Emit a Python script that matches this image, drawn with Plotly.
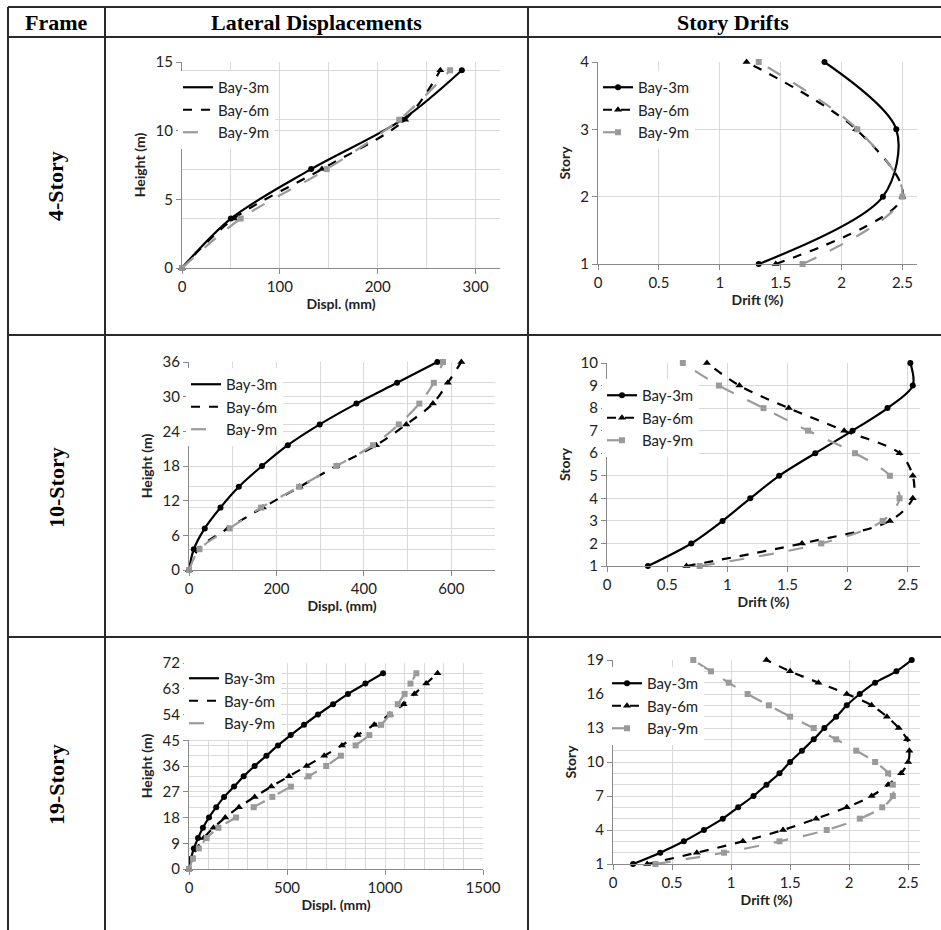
import plotly.graph_objects as go

W, Hh = 941, 930
def fx(px): return px / W
def fy(py): return 1 - py / Hh

# ---------------- data ----------------
H4 = [0, 3.6, 7.2, 10.8, 14.4]
D4_3 = [0, 50, 132, 225, 286]
D4_6 = [0, 53, 143, 228, 264]
D4_9 = [0, 60, 148, 222, 274]

S4 = [1, 2, 3, 4]
R4_3 = [1.32, 2.34, 2.45, 1.86]
R4_6 = [1.46, 2.50, 2.12, 1.22]
R4_9 = [1.68, 2.50, 2.13, 1.32]

H10 = [0, 3.6, 7.2, 10.8, 14.4, 18, 21.6, 25.2, 28.8, 32.4, 36]
D10_3 = [0, 11, 36, 72, 114, 167, 226, 299, 383, 476, 568]
D10_6 = [0, 21, 89, 169, 253, 337, 428, 497, 558, 592, 623]
D10_9 = [0, 24, 93, 165, 252, 337, 421, 480, 527, 560, 581]

S10 = [1, 2, 3, 4, 5, 6, 7, 8, 9, 10]
R10_3 = [0.34, 0.70, 0.96, 1.19, 1.43, 1.73, 2.04, 2.33, 2.54, 2.52]
R10_6 = [0.66, 1.62, 2.35, 2.54, 2.54, 2.43, 1.97, 1.51, 1.10, 0.83]
R10_9 = [0.77, 1.78, 2.29, 2.43, 2.35, 2.06, 1.67, 1.30, 0.93, 0.63]

H19 = [0, 3.6, 7.2, 10.8, 14.4, 18, 21.6, 25.2, 28.8, 32.4, 36, 39.6, 43.2,
       46.8, 50.4, 54, 57.6, 61.2, 64.8, 68.4]
D19_3 = [0, 10, 25, 46, 71, 102, 139, 179, 230, 279, 335, 395, 454, 519, 587,
         658, 735, 811, 900, 990]
D19_6 = [0, 15, 40, 75, 125, 185, 255, 335, 420, 510, 600, 690, 780, 860, 945,
         1025, 1095, 1150, 1210, 1268]
D19_9 = [0, 20, 50, 90, 150, 240, 330, 425, 520, 610, 700, 775, 850, 920, 980,
         1025, 1065, 1100, 1130, 1160]

S19 = [1, 2, 3, 4, 5, 6, 7, 8, 9, 10, 11, 12, 13, 14, 15, 16, 17, 18, 19]
R19_3 = [0.17, 0.40, 0.60, 0.77, 0.93, 1.06, 1.19, 1.30, 1.41, 1.50, 1.60,
         1.70, 1.79, 1.89, 1.98, 2.09, 2.22, 2.40, 2.53]
R19_6 = [0.29, 0.71, 1.10, 1.44, 1.72, 1.98, 2.19, 2.33, 2.44, 2.50, 2.51,
         2.49, 2.42, 2.32, 2.19, 1.98, 1.74, 1.50, 1.30]
R19_9 = [0.36, 0.94, 1.41, 1.81, 2.09, 2.28, 2.37, 2.37, 2.33, 2.22, 2.06,
         1.89, 1.70, 1.50, 1.32, 1.14, 0.98, 0.83, 0.68]

SERIES = ["Bay-3m", "Bay-6m", "Bay-9m"]
HEADERS = ["Frame", "Lateral Displacements", "Story Drifts"]
FRAMES = ["4-Story", "10-Story", "19-Story"]

# ---------------- styles ----------------
BLACK = "#000000"
GRAY = "#9a9a9a"
STY = [
    dict(color=BLACK, dash="solid", symbol="circle", msize=6),
    dict(color=BLACK, dash="dash", symbol="triangle-up", msize=7),
    dict(color=GRAY, dash="longdash", symbol="square", msize=6),
]
FONT = "Lato, 'Open Sans', sans-serif"
SERIF = "'Liberation Serif', 'DejaVu Serif', serif"
GRID = "#d9d9d9"
AXL = "#8a8a8a"
TXT = "#222"

fig = go.Figure()

panels = [
    dict(xs=[D4_3, D4_6, D4_9], y=H4, left=True, xd=(182, 500), yd=(62, 268),
         xr=[0, 325], xdt=100, xmi=50, yr=[0, 15], ydt=5, yt0=0, ymi=3.6, leg=(178, 71)),
    dict(xs=[R4_3, R4_6, R4_9], y=S4, left=False, xd=(598, 917), yd=(62, 264),
         xr=[0, 2.62], xdt=0.5, xmi=None, yr=[1, 4], ydt=1, yt0=1, ymi=None, leg=(598, 71)),
    dict(xs=[D10_3, D10_6, D10_9], y=H10, left=True, xd=(189, 495), yd=(362, 570),
         xr=[0, 700], xdt=200, xmi=100, yr=[0, 36], ydt=6, yt0=0, ymi=3.6, leg=(186, 368)),
    dict(xs=[R10_3, R10_6, R10_9], y=S10, left=False, xd=(607, 920), yd=(363, 566),
         xr=[0, 2.6], xdt=0.5, xmi=None, yr=[1, 10], ydt=1, yt0=1, ymi=None, leg=(602, 379)),
    dict(xs=[D19_3, D19_6, D19_9], y=H19, left=True, xd=(189, 483), yd=(663, 869),
         xr=[0, 1500], xdt=500, xmi=100, yr=[0, 72], ydt=9, yt0=0, ymi=3.6, leg=(184, 662)),
    dict(xs=[R19_3, R19_6, R19_9], y=S19, left=False, xd=(613, 920), yd=(660, 864),
         xr=[0, 2.6], xdt=0.5, xmi=None, yr=[1, 19], ydt=3, yt0=1, ymi=1, leg=(607, 667)),
]

layout = dict(width=W, height=Hh, margin=dict(l=0, r=0, t=0, b=0, autoexpand=False),
              paper_bgcolor="white", plot_bgcolor="white", showlegend=True,
              font=dict(family=FONT, color=TXT))

for k, p in enumerate(panels, start=1):
    sfx = "" if k == 1 else str(k)
    legname = "legend" if k == 1 else f"legend{k}"
    for i, (xv, st) in enumerate(zip(p["xs"], STY)):
        fig.add_trace(go.Scatter(
            x=xv, y=p["y"], mode="lines+markers",
            line=dict(color=st["color"], dash=st["dash"], width=2.2, shape="spline", smoothing=0.9),
            marker=dict(symbol=st["symbol"], size=st["msize"], color=st["color"]),
            name=SERIES[i], legendgroup=f"g{k}_{i}", legend=legname,
            showlegend=not p["left"], cliponaxis=False,
            xaxis="x" + sfx, yaxis="y" + sfx))
        if p["left"]:
            fig.add_trace(go.Scatter(
                x=[None], y=[None], mode="lines",
                line=dict(color=st["color"], dash=st["dash"], width=2.2),
                name=SERIES[i], legendgroup=f"g{k}_{i}", legend=legname,
                showlegend=True, xaxis="x" + sfx, yaxis="y" + sfx))

    xax = dict(domain=[fx(p["xd"][0]), fx(p["xd"][1])], range=p["xr"], dtick=p["xdt"], tick0=0,
               anchor="y" + sfx, showline=True, linecolor=AXL, linewidth=1.2,
               ticks="outside", ticklen=5, tickcolor=AXL, showgrid=True, gridcolor=GRID,
               zeroline=False, tickfont=dict(size=15, family=FONT, color=TXT),
               title=dict(text="<b>Displ. (mm)</b>" if p["left"] else "<b>Drift (%)</b>",
                          font=dict(size=14, family=FONT, color=TXT), standoff=5))
    if p["xmi"]:
        xax["minor"] = dict(dtick=p["xmi"], tick0=0, showgrid=True, gridcolor=GRID, ticks="")
    yax = dict(domain=[fy(p["yd"][1]), fy(p["yd"][0])], range=p["yr"], dtick=p["ydt"], tick0=p["yt0"],
               anchor="x" + sfx, showline=True, linecolor=AXL, linewidth=1.2,
               ticks="outside", ticklen=5, tickcolor=AXL, showgrid=True, gridcolor=GRID,
               zeroline=False, tickfont=dict(size=15, family=FONT, color=TXT),
               title=dict(text="<b>Height (m)</b>" if p["left"] else "<b>Story</b>",
                          font=dict(size=14, family=FONT, color=TXT), standoff=6))
    if p["ymi"]:
        yax["minor"] = dict(dtick=p["ymi"], tick0=0 if p["left"] else 1, showgrid=True,
                            gridcolor=GRID, ticks="")
    layout["xaxis" + sfx] = xax
    layout["yaxis" + sfx] = yax
    layout[legname] = dict(x=fx(p["leg"][0]), y=fy(p["leg"][1]), xanchor="left", yanchor="top",
                           bgcolor="rgba(255,255,255,1)", borderwidth=0, itemwidth=30,
                           tracegroupgap=0, font=dict(size=15, family=FONT, color=TXT))

fig.update_layout(**layout)

# ---------------- table frame ----------------
lines_h = [7, 37, 335, 637]
lines_v = [8, 105, 528]
for yy in lines_h:
    fig.add_shape(type="line", xref="paper", yref="paper", x0=fx(8), x1=1, y0=fy(yy), y1=fy(yy),
                  line=dict(color="#2a2a2a", width=2))
for xx in lines_v:
    fig.add_shape(type="line", xref="paper", yref="paper", x0=fx(xx), x1=fx(xx), y0=fy(7), y1=0,
                  line=dict(color="#2a2a2a", width=2))

for txt, cx in zip(HEADERS, [56, 316, 733]):
    fig.add_annotation(text=f"<b>{txt}</b>", x=fx(cx), y=fy(22), xref="paper", yref="paper",
                       xanchor="center", yanchor="middle",
                       showarrow=False, font=dict(size=22, family=SERIF, color="#000"))
for txt, cy in zip(FRAMES, [186, 488, 785]):
    fig.add_annotation(text=f"<b>{txt}</b>", x=fx(56), y=fy(cy), xref="paper", yref="paper",
                       xanchor="center", yanchor="middle",
                       showarrow=False, textangle=-90, font=dict(size=22, family=SERIF, color="#000"))

fig.write_html("out.html",
               post_script="document.body.style.margin='0';document.body.style.padding='0';"
                           "document.documentElement.style.overflow='hidden';")
